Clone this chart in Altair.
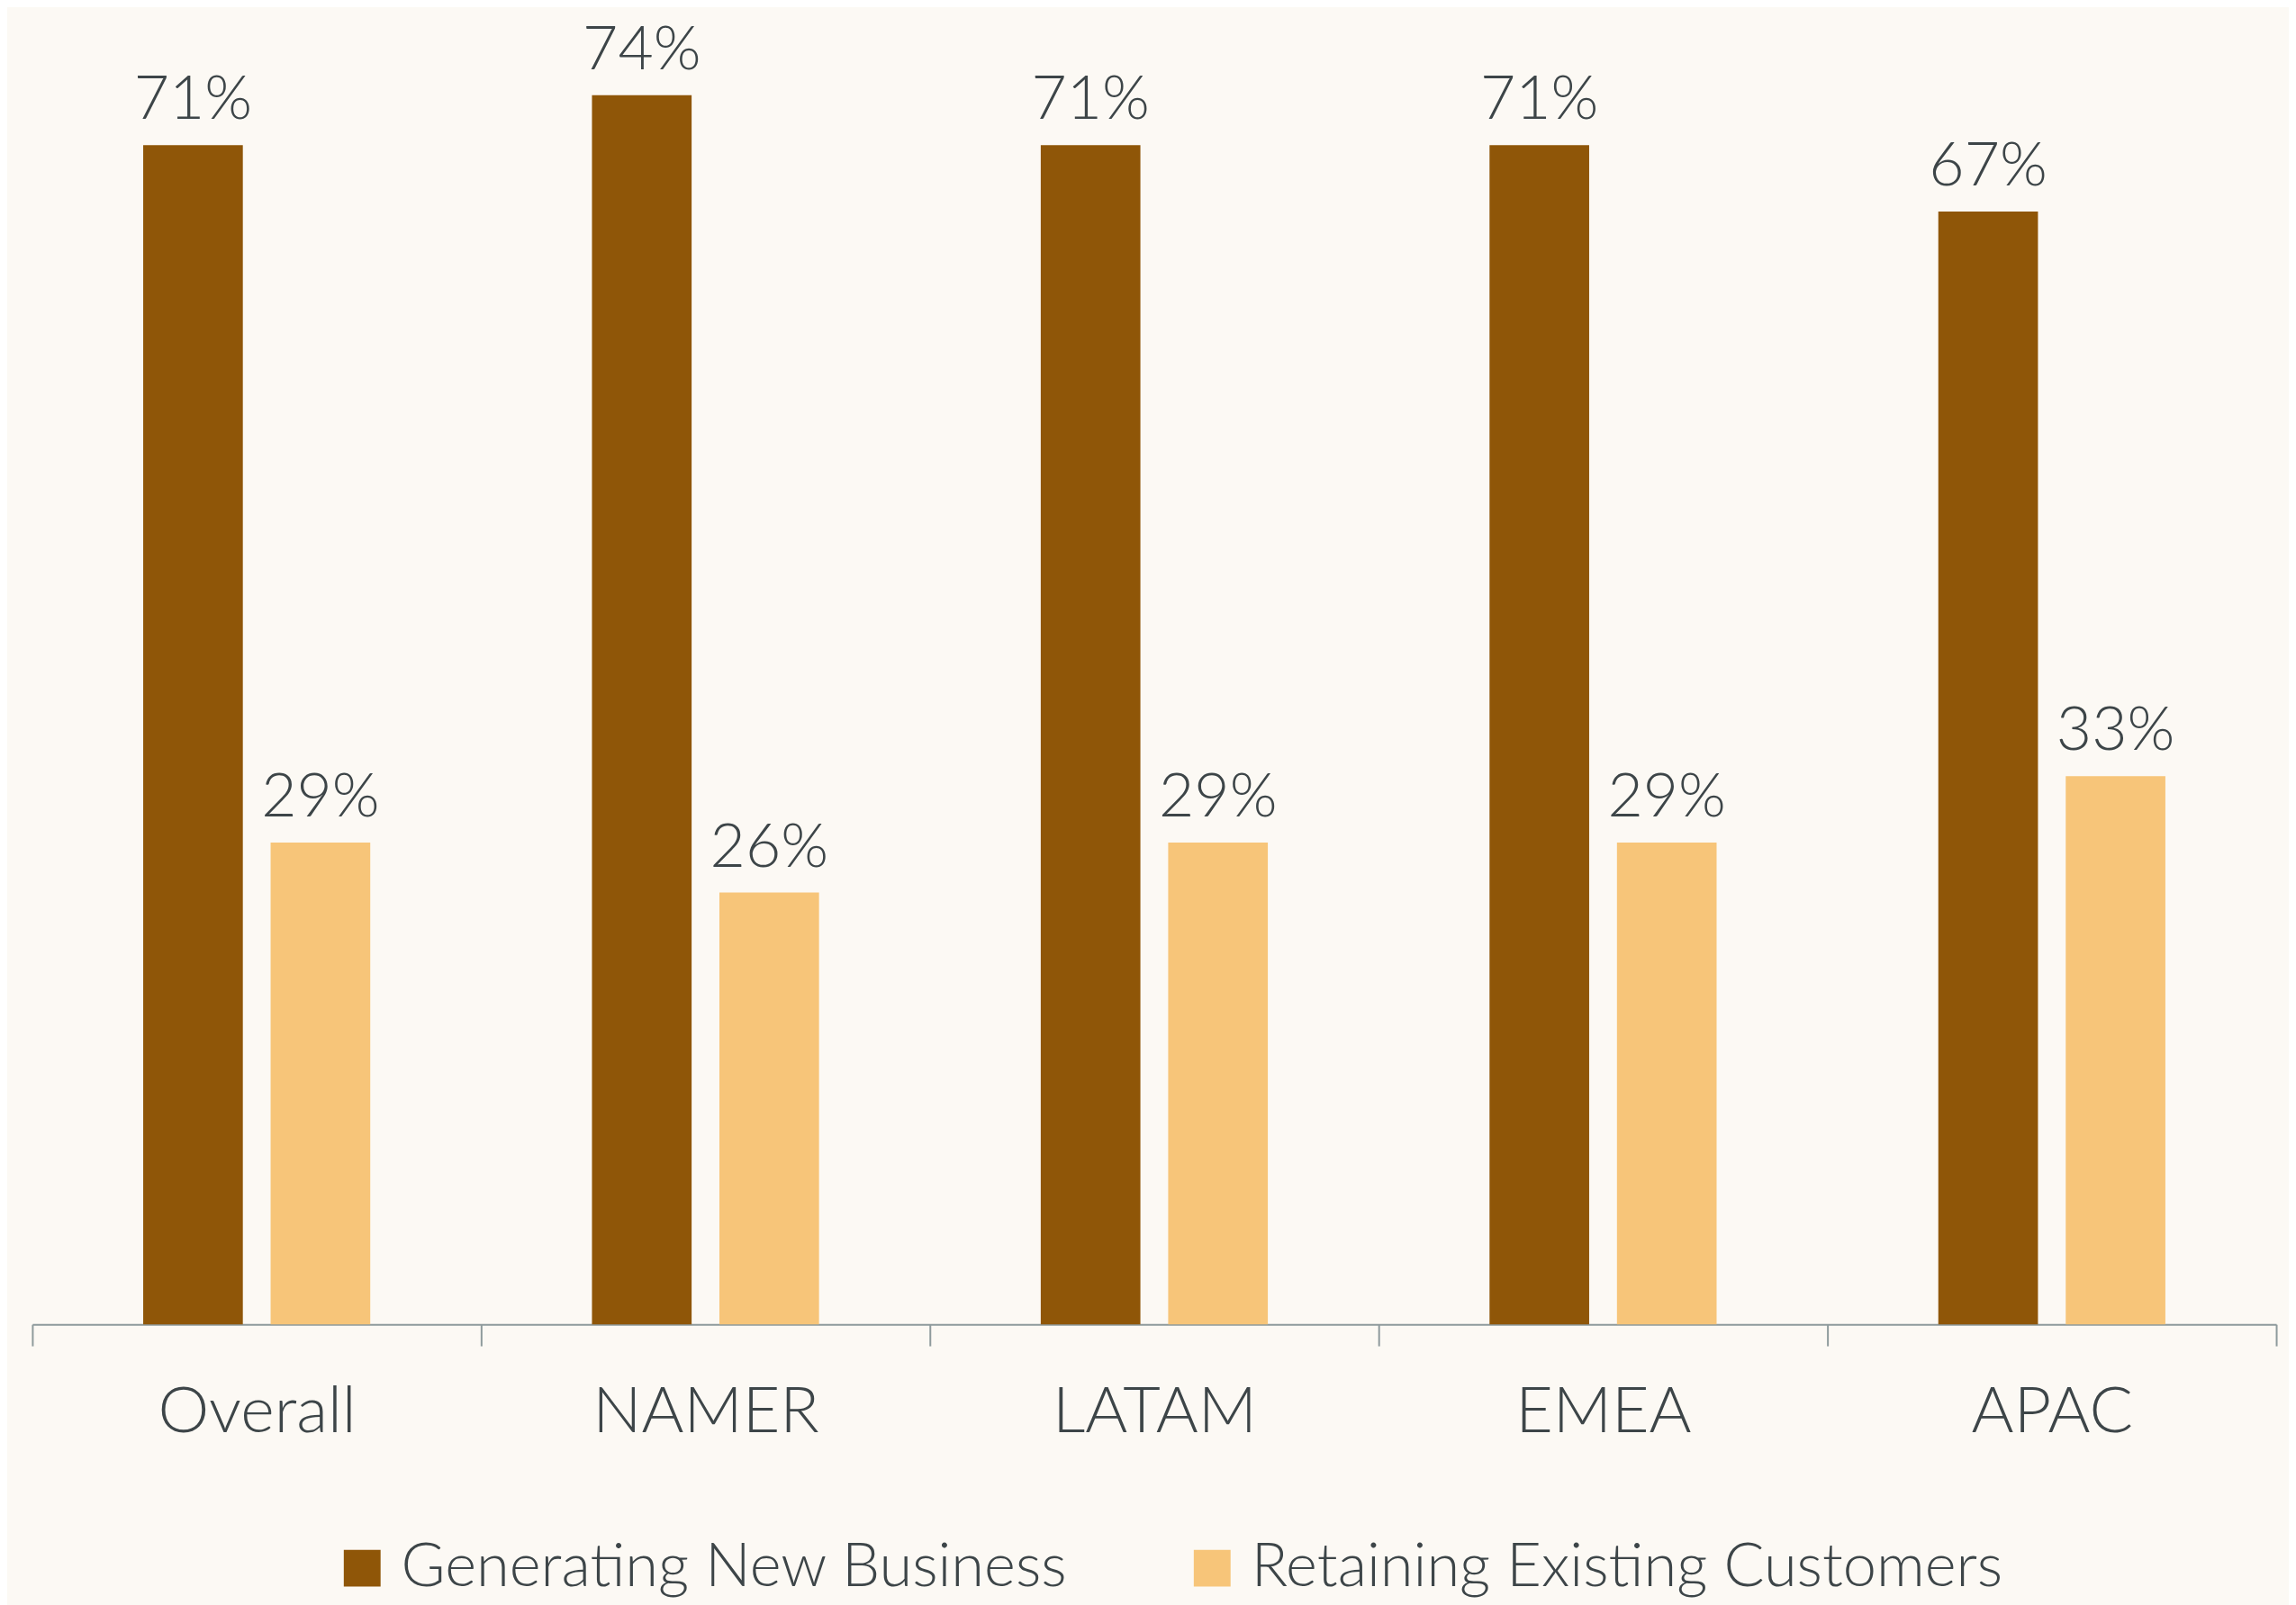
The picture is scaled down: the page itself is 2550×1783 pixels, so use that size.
import altair as alt
import pandas as pd

regions = ["Overall", "NAMER", "LATAM", "EMEA", "APAC"]
series = ["Generating New Business", "Retaining Existing Customers"]
new_business = [71, 74, 71, 71, 67]
retaining = [29, 26, 29, 29, 33]
colors = ["#8f5608", "#f7c579"]

rows = []
for i, r in enumerate(regions):
    rows.append({"region": r, "series": series[0], "value": new_business[i]})
    rows.append({"region": r, "series": series[1], "value": retaining[i]})
df = pd.DataFrame(rows)
df["label"] = df["value"].astype(str) + "%"

FONT = "Lato"
TXT = "#3d4548"

x = alt.X("region:N", sort=regions,
          scale=alt.Scale(paddingInner=0, paddingOuter=0),
          axis=alt.Axis(title=None, labelAngle=0, labelFont=FONT, labelFontSize=72,
                        labelFontWeight=300, labelColor=TXT, labelBaseline="alphabetic",
                        labelPadding=96, labelLimit=1000, tickSize=24, tickWidth=2,
                        tickColor="#8e9a9c", domainColor="#8e9a9c", domainWidth=2,
                        tickBand="extent", grid=False))
xo = alt.XOffset("series:N", sort=series,
                 scale=alt.Scale(paddingInner=0.218, paddingOuter=0.87))
y = alt.Y("value:Q", scale=alt.Scale(domain=[0, 79.15], nice=False), axis=None)

bars = alt.Chart(df).mark_bar().encode(
    x=x, xOffset=xo, y=y,
    color=alt.Color("series:N", sort=series,
                    scale=alt.Scale(domain=series, range=colors),
                    legend=alt.Legend(title=None, orient="none", direction="horizontal",
                                      legendX=334, legendY=1703,
                                      symbolType="square", symbolSize=1681,
                                      symbolStrokeWidth=0, symbolOpacity=1,
                                      labelFont=FONT, labelFontSize=67, labelFontWeight=300,
                                      labelColor=TXT, labelOffset=10, columnPadding=126,
                                      labelLimit=2000))
)

text = alt.Chart(df).mark_text(baseline="alphabetic", dy=-29, font=FONT, fontSize=68,
                               fontWeight=300, color=TXT).encode(
    x=x, xOffset=xo, y=y, text="label:N"
)

chart = (bars + text).properties(
    width=2500, height=1465,
    background="#fcf9f4",
    padding={"left": 28, "top": 0, "right": 14, "bottom": 310},
    autosize=alt.AutoSizeParams(type="none"),
).configure_view(stroke=None)

chart.save("out.html", embed_options={"renderer": "svg", "actions": False})
